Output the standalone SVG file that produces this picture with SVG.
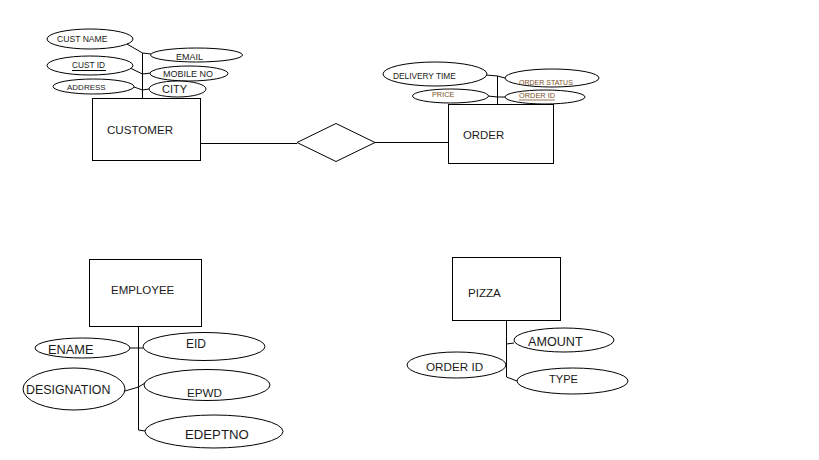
<svg xmlns="http://www.w3.org/2000/svg" width="819" height="460" viewBox="0 0 819 460">
<style>
.s{fill:#fff;stroke:#000;stroke-width:1}
.l{fill:none;stroke:#000;stroke-width:1}
text{font-family:"Liberation Sans",Arial,sans-serif;fill:#1a1a1a}
.o{fill:#7a4f24}
</style>
<rect width="819" height="460" fill="#fff"/>
<g id="connectors">
<line class="l" x1="142.5" y1="53" x2="142.5" y2="98"/>
<path class="l" d="M127,44 L142.5,53 L151,54"/>
<path class="l" d="M130,68 L142.5,74 L151,73"/>
<path class="l" d="M134,87 L142.5,90 L149,89"/>
<line class="l" x1="497.5" y1="76" x2="497.5" y2="104"/>
<path class="l" d="M486,75 L497.5,76 L505,78"/>
<path class="l" d="M488,96 L497.5,97 L505,97"/>
<line class="l" x1="201" y1="143.5" x2="297" y2="143.5"/>
<line class="l" x1="375" y1="142.5" x2="448" y2="142.5"/>
<line class="l" x1="138.5" y1="327" x2="138.5" y2="430"/>
<path class="l" d="M130,348 L143,348"/>
<path class="l" d="M125,391 L138.5,387 L145,383"/>
<path class="l" d="M138.5,430 L145,431"/>
<line class="l" x1="506.5" y1="321" x2="506.5" y2="377"/>
<path class="l" d="M506.5,344 L514,343"/>
<path class="l" d="M506.5,377 L517,381"/>
</g>
<g id="customer">
<rect class="s" x="92.5" y="98.5" width="108" height="62"/>
<text x="107" y="134" font-size="11.6">CUSTOMER</text>
</g>
<g id="cust_name">
<ellipse class="s" cx="90" cy="39" rx="43" ry="10"/>
<text x="57" y="42" font-size="8.6">CUST NAME</text>
</g>
<g id="cust_id">
<ellipse class="s" cx="90" cy="65.5" rx="43" ry="9.5"/>
<text x="72" y="68" font-size="8.3">CUST ID</text>
<line class="l" x1="72" y1="70.5" x2="106" y2="70.5"/>
</g>
<g id="address">
<ellipse class="s" cx="93.5" cy="86.5" rx="40.5" ry="7.5"/>
<text x="67" y="89.5" font-size="8">ADDRESS</text>
</g>
<g id="email">
<ellipse class="s" cx="196.5" cy="55" rx="46" ry="7"/>
<text x="176" y="60" font-size="9">EMAIL</text>
</g>
<g id="mobile_no">
<ellipse class="s" cx="189" cy="73.5" rx="39" ry="7.5"/>
<text x="163" y="77" font-size="9">MOBILE NO</text>
</g>
<g id="city">
<ellipse class="s" cx="177.5" cy="89" rx="28.5" ry="8"/>
<text x="162" y="93" font-size="11">CITY</text>
</g>
<g id="relationship">
<polygon class="s" points="297,142.5 336,123.5 375,142.5 336,161.5"/>
</g>
<g id="order">
<rect class="s" x="448.5" y="104.5" width="105" height="59"/>
<text x="463" y="139" font-size="11.4">ORDER</text>
</g>
<g id="delivery_time">
<ellipse class="s" cx="435" cy="74" rx="52" ry="12"/>
<text x="393" y="79" font-size="8.3">DELIVERY TIME</text>
</g>
<g id="price">
<ellipse class="s" cx="450.5" cy="96" rx="38" ry="7"/>
<text class="o" x="432" y="97" font-size="7.3">PRICE</text>
</g>
<g id="order_status">
<ellipse class="s" cx="552" cy="78" rx="47" ry="9"/>
<text class="o" x="519" y="85" font-size="7">ORDER STATUS</text>
</g>
<g id="order_id">
<ellipse class="s" cx="545" cy="97" rx="40" ry="7"/>
<text class="o" x="519" y="98" font-size="7.4">ORDER ID</text>
<line x1="519" y1="100" x2="555" y2="100" stroke="#7a4f24" stroke-width="0.8"/>
</g>
<g id="employee">
<rect class="s" x="89.5" y="259.5" width="112" height="67"/>
<text x="111" y="294" font-size="11.5">EMPLOYEE</text>
</g>
<g id="ename">
<ellipse class="s" cx="82.5" cy="348" rx="47.5" ry="10"/>
<text x="48" y="354" font-size="12.8">ENAME</text>
</g>
<g id="eid">
<ellipse class="s" cx="204" cy="346.5" rx="61" ry="14"/>
<text x="186" y="348" font-size="12">EID</text>
</g>
<g id="designation">
<ellipse class="s" cx="74" cy="389" rx="51" ry="21"/>
<text x="26" y="394" font-size="12.4">DESIGNATION</text>
</g>
<g id="epwd">
<ellipse class="s" cx="207" cy="385" rx="63" ry="15.5"/>
<text x="187" y="397" font-size="11.7">EPWD</text>
</g>
<g id="edeptno">
<ellipse class="s" cx="214" cy="431.5" rx="69" ry="16.5"/>
<text x="185" y="439" font-size="13.2">EDEPTNO</text>
</g>
<g id="pizza">
<rect class="s" x="452.5" y="257.5" width="108" height="63"/>
<text x="468" y="297" font-size="11.6">PIZZA</text>
</g>
<g id="amount">
<ellipse class="s" cx="564" cy="340" rx="50" ry="12"/>
<text x="528" y="346" font-size="12.6">AMOUNT</text>
</g>
<g id="pizza_order_id">
<ellipse class="s" cx="456.5" cy="365" rx="49.5" ry="13"/>
<text x="426" y="371" font-size="11.7">ORDER ID</text>
</g>
<g id="type">
<ellipse class="s" cx="572.5" cy="381" rx="55.5" ry="13"/>
<text x="549" y="383" font-size="11.1">TYPE</text>
</g>
</svg>
